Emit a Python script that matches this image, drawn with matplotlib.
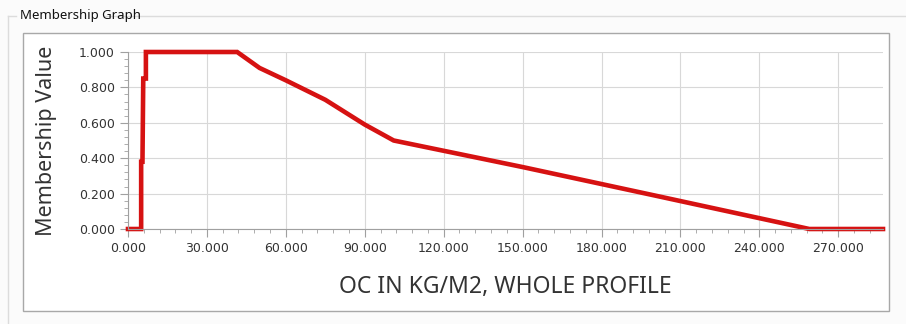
import numpy as np
import matplotlib.pyplot as plt
from matplotlib.patches import Rectangle
from matplotlib.lines import Line2D
from matplotlib.ticker import MultipleLocator, FormatStrFormatter

# membership curve (OC in kg/m2 vs membership value)
oc = [0.0, 5.0, 5.0, 5.5, 5.8, 6.8, 6.8, 41.5, 50.0, 60.0, 75.0, 90.0, 101.0, 150.0, 200.0, 259.0, 287.0]
membership = [0.0, 0.0, 0.38, 0.38, 0.85, 0.85, 1.0, 1.0, 0.91, 0.84, 0.73, 0.59, 0.50, 0.35, 0.19, 0.0, 0.0]

x_ticks = [0, 30, 60, 90, 120, 150, 180, 210, 240, 270]
y_ticks = [0.0, 0.2, 0.4, 0.6, 0.8, 1.0]

W, H = 906, 324
fig = plt.figure(figsize=(W / 100, H / 100), dpi=100)
fig.patch.set_facecolor('#fbfbfb')

def fx(px):
    return px / W

def fy(py):
    return 1 - py / H

# group box outline
fig.add_artist(Line2D([fx(8), fx(8)], [fy(16), fy(324)], color='#dcdcdc', lw=1, zorder=-5))
fig.add_artist(Line2D([fx(8), fx(16)], [fy(16), fy(16)], color='#dcdcdc', lw=1, zorder=-5))
fig.add_artist(Line2D([fx(104), fx(906)], [fy(16), fy(16)], color='#dcdcdc', lw=1, zorder=-5))
fig.text(fx(20), fy(16), 'Membership Graph', fontsize=9.5, va='center', ha='left',
         color='#111111', family='Noto Sans')

# inner white panel
fig.add_artist(Rectangle((fx(23), fy(311)), fx(889 - 23), (311 - 33) / H,
                         facecolor='white', edgecolor='#a8a8a8', lw=1, zorder=-5))

ax = fig.add_axes([fx(128), fy(229), fx(883 - 128), (229 - 52) / H])
ax.set_facecolor('white')
ax.plot(oc, membership, color='#d61212', lw=3.3, solid_joinstyle='miter', clip_on=False)
ax.set_xlim(0, 287)
ax.set_ylim(0, 1.0)
ax.set_xticks(x_ticks)
ax.set_yticks(y_ticks)
ax.xaxis.set_minor_locator(MultipleLocator(6))
ax.yaxis.set_minor_locator(MultipleLocator(0.04))
ax.xaxis.set_major_formatter(FormatStrFormatter('%.3f'))
ax.yaxis.set_major_formatter(FormatStrFormatter('%.3f'))
ax.grid(True, which='major', color='#d8d8d8', lw=0.8)
ax.set_axisbelow(True)
for s in ['top', 'right']:
    ax.spines[s].set_visible(False)
for s in ['left', 'bottom']:
    ax.spines[s].set_color('#a0a0a0')
ax.tick_params(which='major', length=6, color='#a0a0a0', labelsize=9, labelcolor='#333333')
ax.tick_params(which='minor', length=3, color='#a0a0a0')
ax.set_xlabel('OC IN KG/M2, WHOLE PROFILE', fontsize=16.5, color='#333333', labelpad=14,
              family='Noto Sans')
ax.set_ylabel('Membership Value', fontsize=15.5, color='#333333', labelpad=16,
              family='Noto Sans')

fig.savefig('out.png', dpi=100, facecolor=fig.get_facecolor())
